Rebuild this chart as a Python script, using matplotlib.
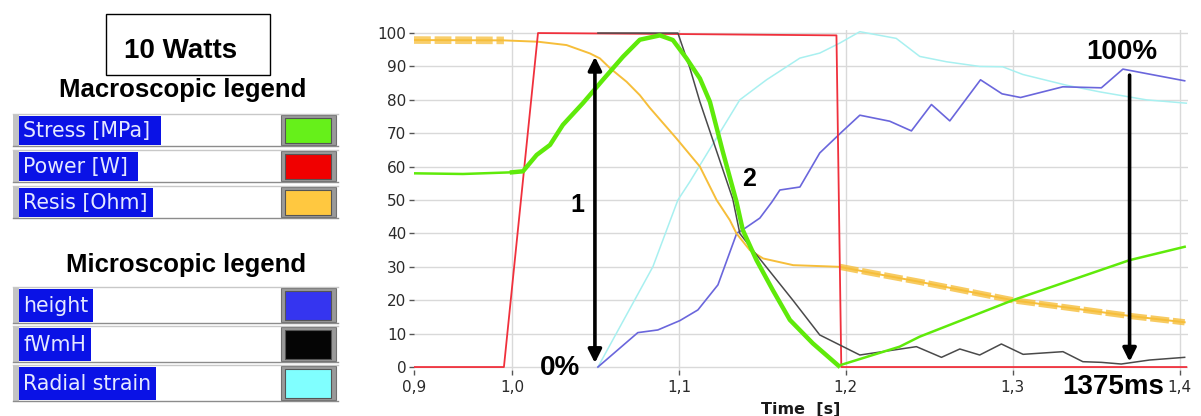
import numpy as np
import matplotlib
matplotlib.use("Agg")
import matplotlib.pyplot as plt
from matplotlib.patches import Rectangle
from matplotlib.ticker import NullLocator

# ---------------- data (time in s, value in %) ----------------
power_t = [0.900, 0.9918, 1.0156, 1.100, 1.1944, 1.1973, 1.404]
power_v = [0.0, 0.0, 100.0, 99.7, 99.3, 0.0, 0.0]

stress_t = [0.900, 0.950, 1.000, 1.0066, 1.0148, 1.0228, 1.0305, 1.0425, 1.0545,
            1.0665, 1.0766, 1.0886, 1.0964, 1.1046, 1.1126, 1.1186, 1.1263,
            1.1345, 1.1383, 1.1465, 1.1563, 1.1665, 1.1802, 1.1956, 1.2323,
            1.2443, 1.300, 1.370, 1.403]
stress_v = [58.0, 57.8, 58.3, 58.6, 63.5, 66.5, 72.5, 79.0, 86.0,
            92.9, 98.0, 99.3, 97.9, 92.4, 86.4, 79.4, 64.5,
            49.5, 41.0, 32.0, 23.0, 14.1, 7.1, 0.4, 6.1,
            9.1, 20.0, 32.0, 36.0]

resis_t = [0.900, 0.9918, 1.0156, 1.0327, 1.0467, 1.0527, 1.0587, 1.0687, 1.0766,
           1.0826, 1.0986, 1.1126, 1.1226, 1.1305, 1.1345, 1.1425, 1.1505,
           1.1685, 1.1964, 1.2162, 1.2443, 1.300, 1.370, 1.403]
resis_v = [97.9, 97.8, 97.4, 96.4, 93.9, 92.4, 89.5, 85.4, 81.4,
           77.6, 68.4, 60.0, 50.0, 44.0, 40.0, 35.0, 32.5,
           30.5, 30.0, 28.1, 25.5, 20.0, 15.3, 13.4]

height_t = [1.0515, 1.0754, 1.0874, 1.1006, 1.1114, 1.1234, 1.1347, 1.1380, 1.1485,
            1.1557, 1.1605, 1.1725, 1.1844, 1.1976, 1.2084, 1.2263, 1.2393,
            1.2513, 1.2623, 1.2807, 1.2936, 1.3047, 1.3300, 1.3531, 1.3660, 1.4030]
height_v = [0.0, 10.3, 11.1, 13.9, 17.1, 24.6, 40.1, 41.0, 44.6,
            49.4, 53.0, 53.9, 64.1, 70.4, 75.4, 73.6, 70.7,
            78.6, 73.7, 86.0, 81.8, 80.7, 83.9, 83.6, 89.2, 85.7]

fwmh_t = [1.0515, 1.0994, 1.1066, 1.1126, 1.1323, 1.1365, 1.1443, 1.1683, 1.1844,
          1.2084, 1.2423, 1.2573, 1.2683, 1.2802, 1.2932, 1.3062, 1.3301, 1.3420,
          1.3531, 1.3650, 1.3820, 1.4030]
fwmh_v = [100.0, 100.0, 89.5, 79.4, 50.3, 40.0, 35.0, 20.0, 9.6,
          3.6, 6.1, 2.9, 5.4, 3.6, 6.9, 3.8, 4.6, 1.6,
          1.4, 0.9, 2.1, 2.9]

strain_t = [1.0515, 1.0844, 1.0994, 1.1066, 1.1365, 1.1525, 1.1725, 1.1844, 1.1964,
            1.2084, 1.2302, 1.2443, 1.2603, 1.2802, 1.2940, 1.3060, 1.3320,
            1.3520, 1.3800, 1.4040]
strain_v = [0.0, 30.0, 50.0, 55.5, 80.0, 86.0, 92.5, 94.0, 97.0,
            100.4, 98.4, 93.0, 91.4, 90.0, 89.9, 87.6, 84.4,
            82.4, 80.0, 79.0]

x_ticks = [0.9, 1.0, 1.1, 1.2, 1.3, 1.4]
x_tick_labels = ["0,9", "1,0", "1,1", "1,2", "1,3", "1,4"]
y_ticks = [0, 10, 20, 30, 40, 50, 60, 70, 80, 90, 100]

macro_labels = ["Stress [MPa]", "Power [W]", "Resis [Ohm]"]
micro_labels = ["height", "fWmH", "Radial strain"]

# ---------------- colours ----------------
C_STRESS = "#5FEA0A"
C_POWER = "#F0303C"
C_RESIS = "#F6BE3A"
C_HEIGHT = "#6A66DC"
C_FWMH = "#4A4A4A"
C_STRAIN = "#A8F0F0"

# ---------------- figure ----------------
W, H = 1201, 416
fig = plt.figure(figsize=(W / 100, H / 100), dpi=100)
fig.patch.set_facecolor("white")

# background axes in pixel coordinates for the left panel
bg = fig.add_axes([0, 0, 1, 1])
bg.set_xlim(0, W)
bg.set_ylim(H, 0)
bg.axis("off")

# "10 Watts" box
bg.add_patch(Rectangle((105.5, 13.5), 164, 61.5, facecolor="white",
                       edgecolor="black", lw=1.0))
bg.text(181, 58, "10 Watts", fontsize=20, fontweight="bold",
        family="Liberation Sans", ha="center", va="baseline")
bg.text(183, 97, "Macroscopic legend", fontsize=18.5, fontweight="bold",
        family="Liberation Sans", ha="center", va="baseline")
bg.text(186, 272, "Microscopic legend", fontsize=18.5, fontweight="bold",
        family="Liberation Sans", ha="center", va="baseline")


def legend_row(top, h, label, box_right, color):
    # row background and borders
    bg.add_patch(Rectangle((13, top), 325, h, facecolor="white", edgecolor="none"))
    bg.plot([13, 338], [top, top], color="#C8C8C8", lw=1.0)
    bg.plot([13, 338], [top + h, top + h], color="#8C8C8C", lw=1.0)
    bg.add_patch(Rectangle((13, top), 5.5, h, facecolor="#C4C4C4", edgecolor="none"))
    # blue label box
    bg.add_patch(Rectangle((19, top + 1.5), box_right - 19, h - 2.5,
                           facecolor="#0A12E6", edgecolor="none"))
    bg.text(23, top + h / 2 + 1, label, fontsize=14.8, family="DejaVu Sans",
            color="#E4E8FF", ha="left", va="center")
    # colour swatch
    bg.add_patch(Rectangle((281, top + 1), 55, h - 2, facecolor="#9A9A9A",
                           edgecolor="#707070", lw=0.8))
    bg.add_patch(Rectangle((284.5, top + 4), 46.5, h - 7.5, facecolor=color,
                           edgecolor="#555555", lw=0.8))


macro_tops = [114, 150, 186]
macro_right = [161, 138, 153]
macro_cols = ["#66F01A", "#F00000", "#FFC840"]
for t0, lab, br, col in zip(macro_tops, macro_labels, macro_right, macro_cols):
    legend_row(t0, 32, lab, br, col)

micro_tops = [287, 326, 365]
micro_right = [93, 91, 156]
micro_cols = ["#3535F0", "#050505", "#80FFFF"]
for t0, lab, br, col in zip(micro_tops, micro_labels, micro_right, micro_cols):
    legend_row(t0, 36, lab, br, col)

# ---------------- main chart ----------------
ax_left = 414 / W
ax_right = 1188 / W
ax_bottom = 1 - 369.7 / H
ax_top = 1 - 29.7 / H
ax = fig.add_axes([ax_left, ax_bottom, ax_right - ax_left, ax_top - ax_bottom])
ax.set_facecolor("none")


def fwd(t):
    t = np.asarray(t, dtype=float)
    return np.where(t < 1.0, (t - 1.0) * 980.0, (t - 1.0) * 1670.0)


def inv(u):
    u = np.asarray(u, dtype=float)
    return np.where(u < 0, 1.0 + u / 980.0, 1.0 + u / 1670.0)


ax.set_xscale("function", functions=(fwd, inv))
ax.set_xlim(0.9, 1.405)
ax.set_ylim(-0.8, 101)

for s in ax.spines.values():
    s.set_visible(False)

ax.set_xticks(x_ticks)
ax.set_xticklabels(x_tick_labels)
ax.xaxis.set_minor_locator(NullLocator())
ax.set_yticks(y_ticks)
ax.set_yticklabels([str(v) for v in y_ticks])
ax.tick_params(axis="both", labelsize=11, colors="#555555", labelcolor="#2A2A2A",
               length=3.5, width=1)
ax.tick_params(axis="x", pad=4)
ax.tick_params(axis="y", pad=2)
ax.grid(True, axis="both", color="#D9D9D9", lw=1.0, zorder=0)
ax.set_axisbelow(True)
fig.canvas.draw()
ax.xaxis.get_gridlines()[0].set_visible(False)

st = np.array(stress_t); sv = np.array(stress_v)
rt = np.array(resis_t); rv = np.array(resis_v)

ax.plot(strain_t, strain_v, color=C_STRAIN, lw=1.1, zorder=2)
ax.plot(height_t, height_v, color=C_HEIGHT, lw=1.2, zorder=3)
ax.plot(rt, rv, color=C_RESIS, lw=1.4, zorder=4)
m1 = rt <= 0.992
ax.plot(rt[m1], rv[m1], color=C_RESIS, lw=5.5, alpha=0.75, zorder=4,
        solid_capstyle="butt", dashes=(2.2, 0.5))
m2 = rt >= 1.1964
ax.plot(rt[m2], rv[m2], color=C_RESIS, lw=4.5, alpha=0.8, zorder=4,
        solid_capstyle="butt", dashes=(3, 0.6))
ax.plot(power_t, power_v, color=C_POWER, lw=1.3, zorder=5)
ax.plot(fwmh_t, fwmh_v, color=C_FWMH, lw=1.1, zorder=6)
ax.plot(st, sv, color=C_STRESS, lw=1.8, zorder=7)
m3 = (st >= 1.0) & (st <= 1.1956)
ax.plot(st[m3], sv[m3], color=C_STRESS, lw=3.2, zorder=7)

# annotations
ann_font = dict(family="Liberation Sans", fontweight="bold", color="black",
                ha="center", va="center")
ax.text(1.0389, 48.5, "1", fontsize=18, **ann_font)
ax.text(1.1419, 56.3, "2", fontsize=18, **ann_font)
ax.text(1.0287, -0.4, "0%", fontsize=20, clip_on=False, **ann_font)
ax.text(1.3653, 94.3, "100%", fontsize=20, clip_on=False, **ann_font)
ax.text(1.3599, -6.0, "1375ms", fontsize=20, clip_on=False, zorder=10, **ann_font)

ax.annotate("", xy=(1.0497, 92.9), xytext=(1.0497, 1.2),
            arrowprops=dict(arrowstyle="<|-|>", lw=2.6, color="black",
                            mutation_scale=20, shrinkA=0, shrinkB=0), zorder=9)
ax.annotate("", xy=(1.370, 1.6), xytext=(1.370, 87.4),
            arrowprops=dict(arrowstyle="-|>", lw=2.6, color="black",
                            mutation_scale=20, shrinkA=0, shrinkB=0), zorder=9)

ax.set_xlabel("Time  [s]", fontsize=11.5, fontweight="bold", color="#1A1A1A")
ax.xaxis.set_label_coords(0.5, -0.095)
ax.xaxis.label.set_va("top")

fig.savefig("out.png", dpi=100)
